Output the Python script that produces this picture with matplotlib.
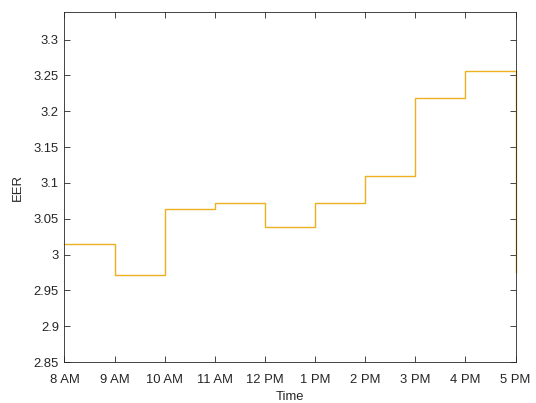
import matplotlib.pyplot as plt

plt.rcParams['font.family'] = ['Liberation Sans', 'DejaVu Sans']

# Hourly EER values (8 AM ... 5 PM)
hours = [8, 9, 10, 11, 12, 13, 14, 15, 16, 17]
eer = [3.015, 2.972, 3.063, 3.0715, 3.039, 3.0715, 3.1098, 3.218, 3.2564, 2.975]
hour_labels = ['8 AM', '9 AM', '10 AM', '11 AM', '12 PM', '1 PM', '2 PM', '3 PM', '4 PM', '5 PM']
y_ticks = [2.85, 2.9, 2.95, 3.0, 3.05, 3.1, 3.15, 3.2, 3.25, 3.3]

fig = plt.figure(figsize=(5.36, 4.03), dpi=100)
ax = fig.add_axes([0.1203, 0.1017, 0.8415, 0.8678])

ax.step(hours, eer, where='post', color='#EDB120', linewidth=1.0, clip_on=False)

ax.set_xlim(8, 17)
ax.set_ylim(2.85, 3.338)
ax.set_xticks(hours)
ax.set_xticklabels(hour_labels)
ax.set_yticks(y_ticks)
ax.set_yticklabels(['{:g}'.format(v) for v in y_ticks])

ax.set_xlabel('Time', fontsize=9.4, color='#262626', labelpad=3.5)
ax.set_ylabel('EER', fontsize=9.4, color='#262626', labelpad=7)

for s in ax.spines.values():
    s.set_color('#262626')
    s.set_linewidth(0.6)
ax.tick_params(direction='in', length=4, width=0.6, colors='#262626',
               labelsize=9.4, top=True, right=True, pad=4)
ax.tick_params(axis='x', pad=8.5)

fig.savefig('out.png', dpi=100)
